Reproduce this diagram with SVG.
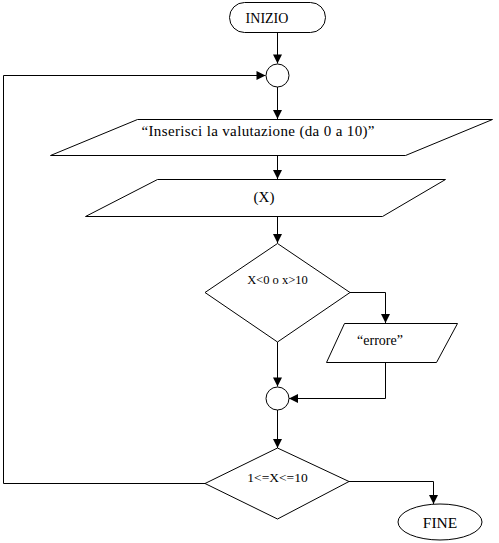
<svg xmlns="http://www.w3.org/2000/svg" width="499" height="543" viewBox="0 0 499 543">
<style>
.s{fill:#fff;stroke:#000;stroke-width:1}
.c{fill:none;stroke:#000;stroke-width:1}
text{font-family:"Liberation Serif","Times New Roman",serif;font-size:14px;fill:#000;text-anchor:middle}
</style>
<defs>
<marker id="a" viewBox="0 0 10 10" refX="10" refY="5" markerUnits="userSpaceOnUse" markerWidth="10" markerHeight="9" orient="auto">
<path d="M0,0 L10,5 L0,10 z" fill="#000"/>
</marker>
</defs>
<rect width="499" height="543" fill="#fff"/>
<g id="connectors">
<path class="c" d="M277.5,33 V63.5" marker-end="url(#a)"/>
<path class="c" d="M3.5,483.5 V75.5 H265.5" marker-end="url(#a)"/>
<path class="c" d="M277.5,87 V119" marker-end="url(#a)"/>
<path class="c" d="M277.5,155 V179" marker-end="url(#a)"/>
<path class="c" d="M277.5,216 V243" marker-end="url(#a)"/>
<path class="c" d="M350,292.5 H385.5 V323" marker-end="url(#a)"/>
<path class="c" d="M277.5,342 V386.5" marker-end="url(#a)"/>
<path class="c" d="M385.5,363 V398.5 H289" marker-end="url(#a)"/>
<path class="c" d="M277.5,410 V448" marker-end="url(#a)"/>
<path class="c" d="M205,483.5 H3.5"/>
<path class="c" d="M349,481.5 H433.5 V504" marker-end="url(#a)"/>
</g>
<g id="inizio">
<rect class="s" x="229.5" y="2.5" width="96" height="30" rx="15" ry="15"/>
<text x="267" y="23">INIZIO</text>
</g>
<g id="join1">
<circle class="s" cx="277.5" cy="75.5" r="11.5"/>
</g>
<g id="input-prompt">
<polygon class="s" points="137.5,119.5 492.5,119.5 405.5,155.5 50.5,155.5"/>
<text x="258" y="136" style="font-size:15px" textLength="233" lengthAdjust="spacing">“Inserisci la valutazione (da 0 a 10)”</text>
</g>
<g id="input-x">
<polygon class="s" points="157.5,179.5 445.5,179.5 382.5,216.5 85.5,216.5"/>
<text x="264" y="202" style="font-size:15px">(X)</text>
</g>
<g id="check1">
<polygon class="s" points="277.5,243.5 350,292.5 277.5,342 205,292.5"/>
<text x="277.5" y="284" style="font-size:12.5px">X&lt;0 o x&gt;10</text>
</g>
<g id="errore">
<polygon class="s" points="344.5,323.5 457.5,323.5 436.5,362.5 326.5,362.5"/>
<text x="380" y="345">“errore”</text>
</g>
<g id="join2">
<circle class="s" cx="277.5" cy="398.5" r="11.5"/>
</g>
<g id="check2">
<polygon class="s" points="277.5,448 349,481.5 277.5,519 205,483.5"/>
<text x="277.5" y="482" style="font-size:13.5px">1&lt;=X&lt;=10</text>
</g>
<g id="fine">
<ellipse class="s" cx="440" cy="522" rx="42" ry="18"/>
<text x="440" y="528" style="font-size:15.5px">FINE</text>
</g>
</svg>
